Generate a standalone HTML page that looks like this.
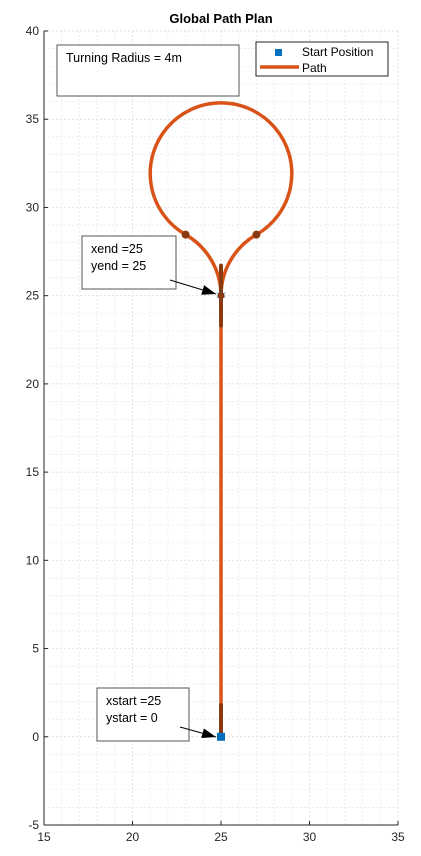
<!DOCTYPE html>
<html><head><meta charset="utf-8"><style>
body{margin:0;background:#fff}
svg{display:block;font-family:"Liberation Sans","DejaVu Sans",sans-serif}
</style></head><body>
<svg id="c" width="421" height="856"></svg>
<script>
const xTicks=[15,20,25,30,35];
const yTicks=[-5,0,5,10,15,20,25,30,35,40];
const startPos=[25,0];
const endPos=[25,25];
const turnRadius=4;
const loopCenter=[25,32];
const tangentPts=[[23,28.46],[27,28.46]];
const darkSegs=[[25,0,25,1.8],[25,23.3,25,26.7]];
const X0=44,X1=398,Y0=825,Y1=31;
const sx=v=>X0+(v-15)/(35-15)*(X1-X0);
const sy=v=>Y0-(v+5)/(40+5)*(Y0-Y1);
const S=document.getElementById('c');const NS='http://www.w3.org/2000/svg';
function mk(t,a,p){const e=document.createElementNS(NS,t);for(const k in a)e.setAttribute(k,a[k]);(p||S).appendChild(e);return e;}
for(let v=15;v<=35;v++){const l=mk('line',{x1:sx(v),x2:sx(v),y1:Y1,y2:Y0,stroke:v%5?'#e6e6e6':'#d8d8d8','stroke-width':0.7,'stroke-dasharray':'2,2'});
}
for(let v=-5;v<=40;v++){const l=mk('line',{x1:X0,x2:X1,y1:sy(v),y2:sy(v),stroke:v%5?'#e6e6e6':'#d8d8d8','stroke-width':0.7,'stroke-dasharray':'2,2'});
}
let a=mk('line',{x1:X0,x2:X0,y1:Y1,y2:Y0,stroke:'#262626','stroke-width':1});
a=mk('line',{x1:X0,x2:X1,y1:Y0,y2:Y0,stroke:'#262626','stroke-width':1});
xTicks.forEach(v=>{mk('line',{x1:sx(v),x2:sx(v),y1:Y0,y2:Y0-4,stroke:'#262626'});
const t=mk('text',{x:sx(v),y:Y0+16,'text-anchor':'middle','font-size':12,fill:'#262626'});t.textContent=v;
});
yTicks.forEach(v=>{mk('line',{x1:X0,x2:X0+4,y1:sy(v),y2:sy(v),stroke:'#262626'});
const t=mk('text',{x:X0-5,y:sy(v)+4,'text-anchor':'end','font-size':12,fill:'#262626'});t.textContent=v;
});
let t=mk('text',{x:221,y:23,'text-anchor':'middle','font-size':13,'font-weight':'bold',fill:'#000'});t.textContent='Global Path Plan';

const r=turnRadius,ppx=(X1-X0)/20,rp=r*ppx,rpy=r*(Y0-Y1)/45;
const d=`M${sx(startPos[0])},${sy(startPos[1])} L${sx(endPos[0])},${sy(endPos[1])} `+
`A${rp},${rpy} 0 0 1 ${sx(tangentPts[1][0])},${sy(tangentPts[1][1])} `+
`A${rp},${rpy} 0 1 0 ${sx(tangentPts[0][0])},${sy(tangentPts[0][1])} `+
`A${rp},${rpy} 0 0 1 ${sx(endPos[0])},${sy(endPos[1])}`;
const p=mk('path',{d:d,fill:'none',stroke:'#d95319','stroke-width':3.5});

darkSegs.forEach(s=>{const l=mk('line',{x1:sx(s[0]),y1:sy(s[1]),x2:sx(s[2]),y2:sy(s[3]),stroke:'#8a3a10','stroke-width':4,'stroke-linecap':'round'});
});
tangentPts.forEach(q=>{const c=mk('circle',{cx:sx(q[0]),cy:sy(q[1]),r:4,fill:'#8a3a10'});
});
let st=mk('text',{x:sx(endPos[0]),y:sy(endPos[1])+5,'text-anchor':'middle','font-size':15,fill:'#0072bd'});st.textContent='✶';

let ec=mk('circle',{cx:sx(endPos[0]),cy:sy(endPos[1]),r:3.5,fill:'#8a3a10'});

let sq=mk('rect',{x:sx(startPos[0])-4,y:sy(startPos[1])-4,width:8,height:8,fill:'#0072bd'});

function box(x,y,w,h,lines,name){const g=mk('g',{});
mk('rect',{x:x,y:y,width:w,height:h,fill:'#fff',stroke:'#555','stroke-width':1},g);
lines.forEach((s,i)=>{const tt=mk('text',{x:x+9,y:y+17+i*17,'font-size':12.5,fill:'#000'},g);tt.textContent=s;});}
box(57,45,182,51,['Turning Radius = 4m'],'turning-radius-annotation');
box(82,236,94,53,['xend =25','yend = 25'],'end-annotation');
box(97,688,92,53,['xstart =25','ystart = 0'],'start-annotation');
mk('defs',{}).innerHTML='<marker id="ar" markerUnits="userSpaceOnUse" markerWidth="14" markerHeight="10" refX="14" refY="5" orient="auto"><path d="M0,0 L14,5 L0,10 z" fill="#000"/></marker>';
let ar=mk('line',{x1:170,y1:280,x2:216,y2:294,stroke:'#000','stroke-width':1,'marker-end':'url(#ar)'});

ar=mk('line',{x1:180,y1:727,x2:216,y2:737,stroke:'#000','stroke-width':1,'marker-end':'url(#ar)'});

const lg=mk('g',{});
mk('rect',{x:256,y:42,width:132,height:34,fill:'#fff',stroke:'#262626','stroke-width':1},lg);
mk('rect',{x:275,y:49,width:7,height:7,fill:'#0072bd'},lg);
let lt=mk('text',{x:302,y:56,'font-size':12,fill:'#000'},lg);lt.textContent='Start Position';
mk('line',{x1:260,x2:299,y1:67,y2:67,stroke:'#d95319','stroke-width':3.5},lg);
lt=mk('text',{x:302,y:72,'font-size':12,fill:'#000'},lg);lt.textContent='Path';
</script>
</body></html>
